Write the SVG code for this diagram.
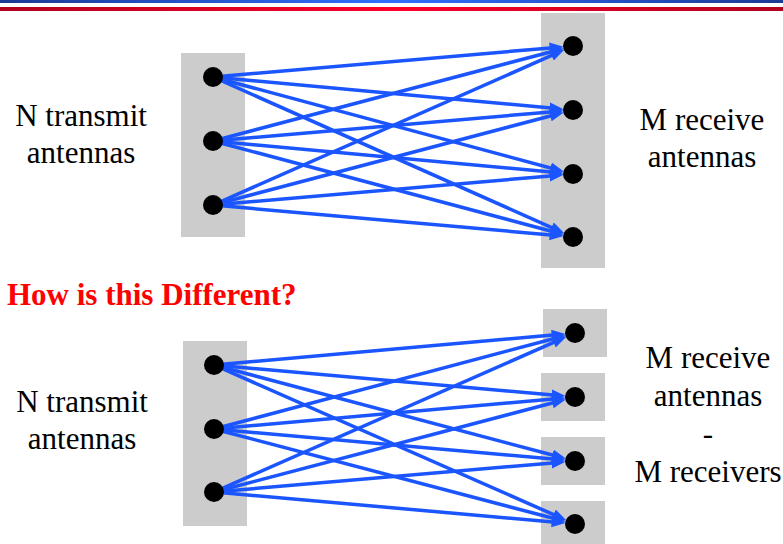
<svg xmlns="http://www.w3.org/2000/svg" width="783" height="544" viewBox="0 0 783 544">
<defs>
<linearGradient id="gb" x1="0" y1="0" x2="1" y2="0"><stop offset="0" stop-color="#1c3a94"/><stop offset="0.5" stop-color="#3070ff"/><stop offset="1" stop-color="#1c3a94"/></linearGradient>
<linearGradient id="gr" x1="0" y1="0" x2="1" y2="0"><stop offset="0" stop-color="#b0001c"/><stop offset="0.5" stop-color="#ff0028"/><stop offset="1" stop-color="#b0001c"/></linearGradient>
<marker id="ah" markerUnits="userSpaceOnUse" markerWidth="15" markerHeight="12" refX="7" refY="5.5" orient="auto"><path d="M0,0 L14,5.5 L0,11 z" fill="#1a55ff"/></marker>
</defs>
<style>
.box{fill:#cccccc}
.dot{fill:#000}
.lbl{font-family:"Liberation Serif","DejaVu Serif",serif;font-size:31px;fill:#000;text-anchor:middle}
.ttl{font-family:"Liberation Serif","DejaVu Serif",serif;font-size:31px;font-weight:bold;fill:#ff0000}
.cn line{stroke:#1a55ff;stroke-width:3.5;marker-end:url(#ah)}
</style>
<rect x="0" y="0" width="783" height="3" fill="url(#gb)"/>
<rect x="0" y="7" width="783" height="4" fill="url(#gr)"/>

<g id="tx1"><rect class="box" x="181" y="53" width="64" height="184"/></g>
<g id="rx1"><rect class="box" x="541" y="13" width="64" height="255"/></g>
<g id="tx2"><rect class="box" x="183" y="341" width="64" height="185"/></g>
<g id="rx2a"><rect class="box" x="543" y="309" width="64" height="48"/></g>
<g id="rx2b"><rect class="box" x="541" y="373" width="64" height="48"/></g>
<g id="rx2c"><rect class="box" x="541" y="437" width="64" height="48"/></g>
<g id="rx2d"><rect class="box" x="541" y="501" width="64" height="48"/></g>

<g id="connectors" class="cn">
<line x1="213" y1="77" x2="556.6" y2="47.4"/>
<line x1="213" y1="77" x2="556.6" y2="108.5"/>
<line x1="213" y1="77" x2="557.1" y2="169.7"/>
<line x1="213" y1="77" x2="557.9" y2="230.3"/>
<line x1="213" y1="141" x2="557.0" y2="50.2"/>
<line x1="213" y1="141" x2="556.6" y2="111.4"/>
<line x1="213" y1="141" x2="556.6" y2="172.5"/>
<line x1="213" y1="141" x2="557.1" y2="232.7"/>
<line x1="213" y1="205" x2="557.9" y2="52.7"/>
<line x1="213" y1="205" x2="557.0" y2="114.2"/>
<line x1="213" y1="205" x2="556.6" y2="175.4"/>
<line x1="213" y1="205" x2="556.6" y2="235.5"/>
<line x1="214" y1="365" x2="558.6" y2="334.5"/>
<line x1="214" y1="365" x2="558.6" y2="395.5"/>
<line x1="214" y1="365" x2="559.1" y2="456.8"/>
<line x1="214" y1="365" x2="559.9" y2="517.4"/>
<line x1="214" y1="429" x2="559.1" y2="337.2"/>
<line x1="214" y1="429" x2="558.6" y2="398.5"/>
<line x1="214" y1="429" x2="558.6" y2="459.5"/>
<line x1="214" y1="429" x2="559.0" y2="519.8"/>
<line x1="214" y1="492" x2="559.9" y2="339.6"/>
<line x1="214" y1="492" x2="559.0" y2="401.2"/>
<line x1="214" y1="492" x2="558.6" y2="462.4"/>
<line x1="214" y1="492" x2="558.6" y2="522.5"/>
</g>

<g id="tx-nodes-top">
<circle class="dot" cx="213" cy="77" r="10"/>
<circle class="dot" cx="213" cy="141" r="10"/>
<circle class="dot" cx="213" cy="205" r="10"/>
</g>
<g id="rx-nodes-top">
<circle class="dot" cx="573" cy="46" r="10"/>
<circle class="dot" cx="573" cy="110" r="10"/>
<circle class="dot" cx="573" cy="174" r="10"/>
<circle class="dot" cx="573" cy="237" r="10"/>
</g>
<g id="tx-nodes-bottom">
<circle class="dot" cx="214" cy="365" r="10"/>
<circle class="dot" cx="214" cy="429" r="10"/>
<circle class="dot" cx="214" cy="492" r="10"/>
</g>
<g id="rx-nodes-bottom">
<circle class="dot" cx="575" cy="333" r="10"/>
<circle class="dot" cx="575" cy="397" r="10"/>
<circle class="dot" cx="575" cy="461" r="10"/>
<circle class="dot" cx="575" cy="524" r="10"/>
</g>

<g id="labels">
<text class="lbl" x="81" y="126">N transmit</text>
<text class="lbl" x="81" y="163">antennas</text>
<text class="lbl" x="702" y="130">M receive</text>
<text class="lbl" x="702" y="167">antennas</text>
<text class="ttl" x="7" y="305">How is this Different?</text>
<text class="lbl" x="82" y="412">N transmit</text>
<text class="lbl" x="82" y="449">antennas</text>
<text class="lbl" x="708" y="368">M receive</text>
<text class="lbl" x="708" y="406">antennas</text>
<text class="lbl" x="708" y="444">-</text>
<text class="lbl" x="708" y="482">M receivers</text>
</g>
</svg>
